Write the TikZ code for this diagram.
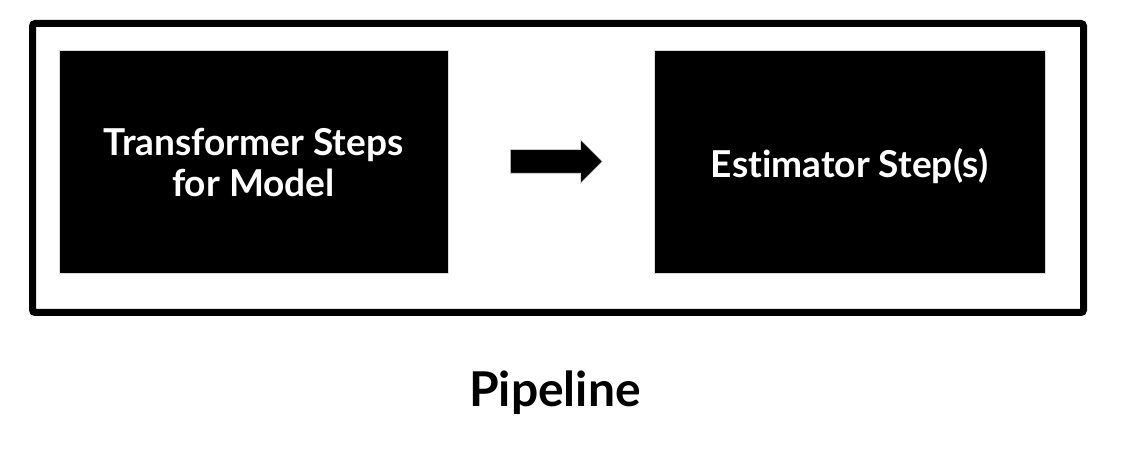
\documentclass[tikz,border=0pt]{standalone}
\usepackage{fontspec}
\setmainfont{Lato}[Ligatures=NoCommon]
\usepackage{tikz}
\usetikzlibrary{positioning,shapes.arrows}
\tikzset{
	stepbox/.style={rectangle,fill=black,draw=black!15,line width=0.75pt,minimum width=389*0.75pt,minimum height=223*0.75pt,inner sep=0pt,text=white,align=center,font=\fontsize{27.8}{30.5}\selectfont\bfseries},
	pipe/.style={rectangle,draw=black,line width=5.25pt,rounded corners=2pt,minimum width=1051*0.75pt,minimum height=289*0.75pt,inner sep=0pt}
}
\begin{document}
\begin{tikzpicture}[x=0.75pt,y=-0.75pt]
		\useasboundingbox (0,0) rectangle (1136,470);
		
		\node[pipe] (F) at (558,168){};
		\node[stepbox] (T) at (253.5,162.5){Transformer Steps\\for Model};
		\node[stepbox,minimum width=391*0.75pt] (E) at (849.5,162.5){\raisebox{-2.5pt}[\height][\depth]{Estimator Step(s)}};
		
		\node[single arrow,anchor=tail,fill=black,draw=black!15,line width=0.5pt,inner sep=0pt,text height=17.25pt,text depth=0pt,text width=0pt,minimum height=92*0.75pt,single arrow head extend=7.5pt,single arrow tip angle=90] (A) at (510,161.5){};
		
		\node[font=\fontsize{36}{42}\selectfont\bfseries] (P) at (555,393){Pipeline};
		
\end{tikzpicture}
\end{document}
